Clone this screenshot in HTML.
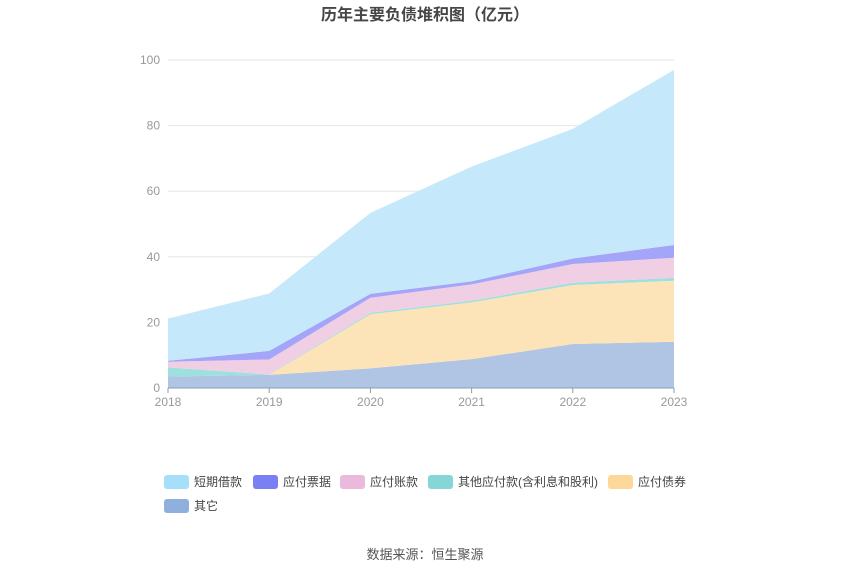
<!DOCTYPE html>
<html><head><meta charset="utf-8"><style>
body{margin:0;background:#fff;font-family:"Liberation Sans","Noto Sans CJK SC",sans-serif;}
svg text{font-family:"Liberation Sans","Noto Sans CJK SC",sans-serif;}
</style></head><body>
<svg id="chart" width="850" height="575">
<text x="425" y="20" text-anchor="middle" font-size="16" font-weight="bold" fill="#464646">历年主要负债堆积图（亿元）</text>
<g id="grid"></g><g id="areas"></g><g id="axes"></g><g id="legend"></g>
<text x="425" y="559" text-anchor="middle" font-size="13" fill="#555">数据来源：恒生聚源</text>
</svg>
<script>
const years=["2018","2019","2020","2021","2022","2023"];
const yTicks=[0,20,40,60,80,100];
const seriesNames=["其它","应付债券","其他应付款(含利息和股利)","应付账款","应付票据","短期借款"];
const other=[3.5,4.0,6.0,8.8,13.4,14.1];
const bonds=[0,0,16.5,17.3,18.0,18.6];
const otherPayables=[2.8,0.1,0.4,0.5,0.7,0.9];
const accountsPayable=[1.7,4.6,4.6,5.0,5.7,6.1];
const notesPayable=[0.3,2.6,1.2,0.9,1.7,3.9];
const shortLoans=[12.9,17.5,24.7,35.0,39.5,53.4];
const seriesVals=[other,bonds,otherPayables,accountsPayable,notesPayable,shortLoans];
const fills=["#b0c4e4","#fce4b8","#9ee0de","#f0cfe4","#a4a4f8","#c5e9fb"];
const legendColors=["#a6dffa","#7b7ff4","#ebb9dc","#86d6d8","#fdd89a","#8fb0dc"];
const legendNames=["短期借款","应付票据","应付账款","其他应付款(含利息和股利)","应付债券","其它"];
const NS="http://www.w3.org/2000/svg";
const x0=168,x1=674,y0=388,y1=60;
const xs=i=>x0+(x1-x0)*i/(years.length-1);
const ys=v=>y0-(y0-y1)*v/100;
function mk(t,a,p){const e=document.createElementNS(NS,t);for(const k in a)e.setAttribute(k,a[k]);p.appendChild(e);return e;}
const grid=document.getElementById('grid'),axes=document.getElementById('axes'),areas=document.getElementById('areas'),legend=document.getElementById('legend');
yTicks.forEach(t=>{
 const l=mk('line',{x1:x0,x2:x1,y1:ys(t),y2:ys(t),stroke:'#e6e6e6'},grid);
 
 
 const tx=mk('text',{x:x0-8,y:ys(t)+4,'text-anchor':'end','font-size':12,fill:'#999'},axes);tx.textContent=t;
 
 
});
let cum=years.map(()=>0);
seriesVals.forEach((s,k)=>{
 const lo=cum.slice();cum=cum.map((c,i)=>c+s[i]);
 let d='M'+years.map((_,i)=>xs(i)+','+ys(cum[i])).join(' L');
 for(let i=years.length-1;i>=0;i--)d+=' L'+xs(i)+','+ys(lo[i]);
 const p=mk('path',{d:d+'Z',fill:fills[k],stroke:'none'},areas);
 
 
});
const ax=mk('line',{x1:x0,x2:x1,y1:y0,y2:y0,stroke:'#8a9bb5'},axes);


years.forEach((y,i)=>{
 mk('line',{x1:xs(i),x2:xs(i),y1:y0,y2:y0+5,stroke:'#8a9bb5'},axes);
 const t=mk('text',{x:xs(i),y:y0+18,'text-anchor':'middle','font-size':12,fill:'#999'},axes);t.textContent=y;
 
 
});
const lpos=[[164,482],[253,482],[340,482],[428,482],[608,482],[164,506]];
legendNames.forEach((n,i)=>{
 const g=mk('g',{},legend);
 
 
 mk('rect',{x:lpos[i][0],y:lpos[i][1]-7,width:25,height:14,rx:3,fill:legendColors[i]},g);
 const t=mk('text',{x:lpos[i][0]+30,y:lpos[i][1]+4,'font-size':12,fill:'#444'},g);t.textContent=n;
});
</script>
</body></html>
